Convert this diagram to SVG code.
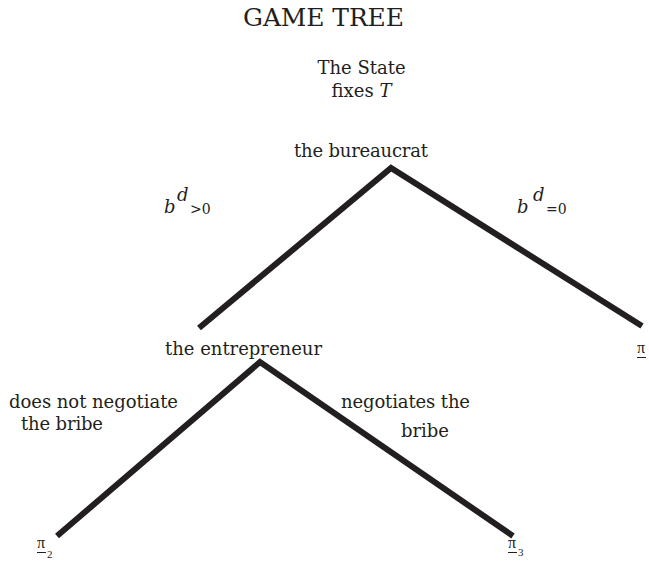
<svg xmlns="http://www.w3.org/2000/svg" width="649" height="567" viewBox="0 0 649 567">
<style>
text{font-family:"DejaVu Serif","Liberation Serif",serif;fill:#231f20;font-size:18px}
.t{font-size:25px}
.i{font-style:italic;font-size:18px}
.s{font-size:14px}
.p{font-family:"Liberation Serif",serif;font-size:16px}
.sub{font-family:"Liberation Serif",serif;font-size:11px}
.e{stroke:#231f20;stroke-width:6;fill:none;stroke-linejoin:miter;stroke-miterlimit:10}
.u{stroke:#231f20;stroke-width:1}
</style>
<rect width="649" height="567" fill="#fff"/>
<text class="t" x="243" y="26" textLength="161">GAME TREE</text>
<g id="connectors">
<polyline class="e" points="199,328 391,168 642,326"/>
<polyline class="e" points="57,536 260,362 513,536"/>
</g>
<g id="state"><text x="361.5" y="74" text-anchor="middle">The State</text><text x="361.5" y="97" text-anchor="middle">fixes <tspan font-style="italic">T</tspan></text></g>
<g id="bureaucrat"><text x="294" y="157" textLength="134">the bureaucrat</text></g>
<g id="label-bpos"><text class="i" x="164" y="213">b</text><text class="i" x="177" y="201">d</text><text class="s" x="190" y="214">&gt;0</text></g>
<g id="label-bzero"><text class="i" x="517" y="213">b</text><text class="i" x="533" y="201">d</text><text class="s" x="546" y="214">=0</text></g>
<g id="entrepreneur"><text x="165" y="355" textLength="157">the entrepreneur</text></g>
<g id="pi"><text class="p" x="637" y="353">π</text><line class="u" x1="637" y1="357.5" x2="646" y2="357.5"/></g>
<g id="label-nonneg"><text x="9" y="408" textLength="169">does not negotiate</text><text x="21" y="430" textLength="82">the bribe</text></g>
<g id="label-neg"><text x="341" y="408" textLength="129">negotiates the</text><text x="401" y="437" textLength="48">bribe</text></g>
<g id="pi2"><text class="p" x="37" y="548">π</text><text class="sub" x="47" y="558">2</text><line class="u" x1="37" y1="552.5" x2="46" y2="552.5"/></g>
<g id="pi3"><text class="p" x="508" y="548">π</text><text class="sub" x="518" y="556">3</text><line class="u" x1="508" y1="552.5" x2="517" y2="552.5"/></g>
</svg>
